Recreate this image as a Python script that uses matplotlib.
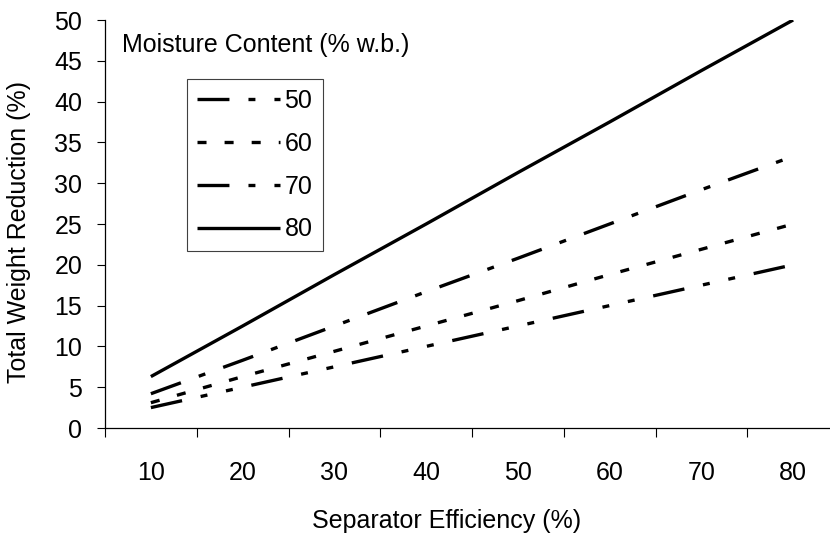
import numpy as np
import matplotlib.pyplot as plt

plt.rcParams['font.family'] = ['Liberation Sans', 'DejaVu Sans']
plt.rcParams['lines.scale_dashes'] = False

# separator efficiency categories (%)
efficiency = ['10', '20', '30', '40', '50', '60', '70', '80']
# total weight reduction (%) for each moisture content (% w.b.)
mc50 = [2.5, 5.0, 7.5, 10.0, 12.5, 15.0, 17.5, 20.0]
mc60 = [3.1, 6.3, 9.4, 12.5, 15.6, 18.8, 21.9, 25.0]
mc70 = [4.2, 8.3, 12.5, 16.7, 20.8, 25.0, 29.2, 33.3]
mc80 = [6.3, 12.5, 18.8, 25.0, 31.3, 37.5, 43.8, 50.0]
labels = ['50', '60', '70', '80']

W, H = 830, 536
fs = 18
fig = plt.figure(figsize=(W/100, H/100), dpi=100)
ax = fig.add_axes([105/W, (H-428)/H, (839-105)/W, 408/H])

x = np.arange(len(efficiency))
lw = 2.4
ax.plot(x, mc50, color='k', lw=lw, dashes=(23, 13.7, 5, 13.7, 5, 13.7), label=labels[0])
ax.plot(x, mc60, color='k', lw=lw, dashes=(6.5, 13), label=labels[1])
ax.plot(x, mc70, color='k', lw=lw, dashes=(23, 13.7, 5, 13.7), label=labels[2])
ax.plot(x, mc80, color='k', lw=lw, solid_capstyle='butt', label=labels[3])

ax.set_xlim(-0.5, len(efficiency) - 0.5)
ax.set_ylim(0, 50)
ax.set_yticks(np.arange(0, 51, 5))
ax.set_xticks(x)
ax.set_xticklabels(efficiency)
ax.set_xticks(np.arange(-0.5, len(efficiency)), minor=True)
ax.tick_params(axis='x', which='major', length=0, pad=24, labelsize=fs)
ax.tick_params(axis='x', which='minor', length=6.5, width=0.8, direction='out', color='k')
ax.tick_params(axis='y', length=5.8, width=0.8, pad=10.5, labelsize=fs, color='k')

for s in ['top', 'right']:
    ax.spines[s].set_visible(False)
for s in ['left', 'bottom']:
    ax.spines[s].set_linewidth(0.9)
    ax.spines[s].set_color('k')

ax.set_xlabel('Separator Efficiency (%)', fontsize=fs)
ax.xaxis.set_label_coords((447-105)/(839-105), -(521-428)/408)
ax.xaxis.label.set_va('center')
ax.set_ylabel('Total Weight Reduction (%)', fontsize=fs)
ax.yaxis.set_label_coords(-(105-19)/(839-105), 0.48)
ax.yaxis.label.set_va('center')

fig.text(122/W, 1-45/H, 'Moisture Content (% w.b.)', fontsize=fs, va='center', ha='left')

leg = ax.legend(loc='upper left', bbox_to_anchor=(187/W, 1-79/H),
                bbox_transform=fig.transFigure, borderaxespad=0,
                fontsize=fs, handlelength=3.3, handletextpad=0.2,
                borderpad=0.4, labelspacing=0.75, fancybox=False,
                framealpha=1, edgecolor='#404040')
leg.get_frame().set_linewidth(0.8)

fig.savefig('out.png', dpi=100)
